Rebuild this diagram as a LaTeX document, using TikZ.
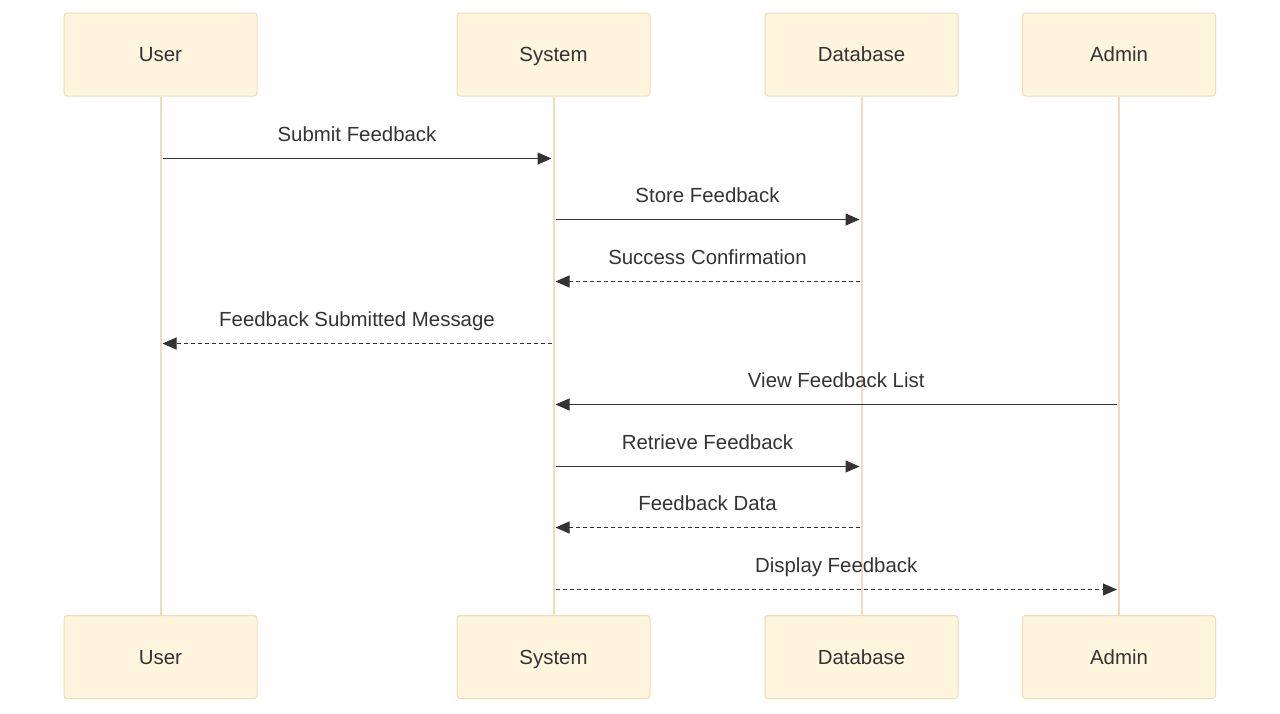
\documentclass[tikz,border=0pt]{standalone}
\usepackage{fontspec}
\setmainfont{Liberation Sans}
\usetikzlibrary{arrows.meta}
\definecolor{boxfill}{HTML}{FFF4DD}
\definecolor{boxline}{HTML}{EEDDB5}
\definecolor{lifeline}{HTML}{F0DDB8}
\definecolor{ink}{HTML}{333333}
\tikzset{
  actor/.style={draw=boxline, fill=boxfill, line width=1pt, rounded corners=3pt,
    minimum width=193pt, minimum height=83pt, inner sep=0pt,
    text height=14.7pt, text depth=0pt, text=ink, font=\fontsize{20.4}{24}\selectfont},
  life/.style={draw=lifeline, line width=2pt},
  msg/.style={draw=ink, line width=1pt, -{Triangle[length=14pt,width=12pt]}, shorten >=2pt, shorten <=2pt},
  ret/.style={msg, dash pattern=on 4pt off 3pt},
  lbl/.style={anchor=base, text=ink, font=\fontsize{20.4}{24}\selectfont, inner sep=0pt},
}
\begin{document}
\begin{tikzpicture}[x=1pt,y=-1pt]
\useasboundingbox (0,0) rectangle (1280,713);
\fill[white] (0,0) rectangle (1280,713);
% actor boxes
\node[actor] (Ut) at (160.5,54.5) {User};
\node[actor] (St) at (553.5,54.5) {System};
\node[actor] (Dt) at (861.5,54.5) {Database};
\node[actor] (At) at (1119,54.5) {Admin};
\node[actor] (Ub) at (160.5,657) {User};
\node[actor] (Sb) at (553.5,657) {System};
\node[actor] (Db) at (861.5,657) {Database};
\node[actor] (Ab) at (1119,657) {Admin};
% lifelines
\draw[life] (Ut.south) -- (Ub.north);
\draw[life] (St.south) -- (Sb.north);
\draw[life] (Dt.south) -- (Db.north);
\draw[life] (At.south) -- (Ab.north);
% messages
\draw[msg] (Ut.south |- 0,158.5) -- (St.south |- 0,158.5)
  node[lbl, midway, yshift=17pt] {Submit Feedback};
\draw[msg] (St.south |- 0,219.5) -- (Dt.south |- 0,219.5)
  node[lbl, midway, yshift=17pt] {Store Feedback};
\draw[ret] (Dt.south |- 0,281.5) -- (St.south |- 0,281.5)
  node[lbl, midway, yshift=17pt] {Success Confirmation};
\draw[ret] (St.south |- 0,343.5) -- (Ut.south |- 0,343.5)
  node[lbl, midway, yshift=17pt] {Feedback Submitted Message};
\draw[msg] (At.south |- 0,404.5) -- (St.south |- 0,404.5)
  node[lbl, midway, yshift=17pt] {View Feedback List};
\draw[msg] (St.south |- 0,466.5) -- (Dt.south |- 0,466.5)
  node[lbl, midway, yshift=17pt] {Retrieve Feedback};
\draw[ret] (Dt.south |- 0,527.5) -- (St.south |- 0,527.5)
  node[lbl, midway, yshift=17pt] {Feedback Data};
\draw[ret] (St.south |- 0,589.5) -- (At.south |- 0,589.5)
  node[lbl, midway, yshift=17pt] {Display Feedback};
\end{tikzpicture}
\end{document}
